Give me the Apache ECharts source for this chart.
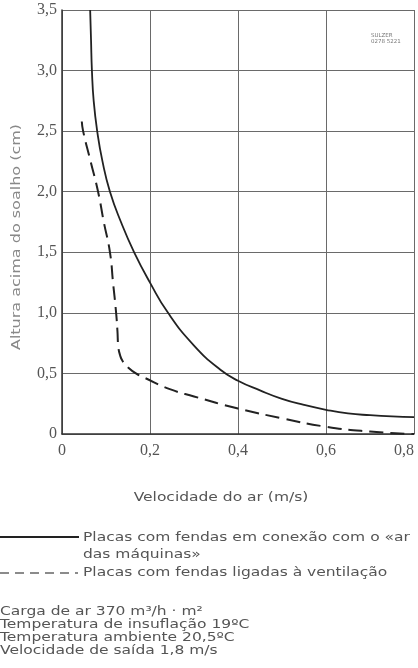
<!DOCTYPE html>
<html>
<head>
<meta charset="utf-8">
<script src="https://cdn.jsdelivr.net/npm/echarts@6/dist/echarts.min.js"></script>
<style>html,body{margin:0;padding:0;background:#fff}#c{width:418px;height:668px}</style>
</head>
<body>
<div id="c"></div>
<script>
var xTicks = [0, 0.2, 0.4, 0.6, 0.8];
var yTicks = [0, 0.5, 1.0, 1.5, 2.0, 2.5, 3.0, 3.5];
var solidName = 'Placas com fendas em conexão com o «ar';
var solidName2 = 'das máquinas»';
var dashedName = 'Placas com fendas ligadas à ventilação';
var solidX = [0.064,0.066,0.068,0.072,0.080,0.092,0.109,0.134,0.164,0.200,0.241,0.300,0.360,0.400,0.450,0.500,0.550,0.600,0.650,0.700,0.750,0.800];
var solidY = [3.50,3.25,3.00,2.75,2.50,2.25,2.00,1.75,1.50,1.25,1.00,0.73,0.53,0.44,0.36,0.29,0.24,0.20,0.17,0.155,0.145,0.14];
var dashX = [0.045,0.048,0.065,0.082,0.095,0.109,0.116,0.123,0.126,0.128,0.132,0.138,0.150,0.168,0.190,0.245,0.300,0.400,0.500,0.600,0.700,0.800];
var dashY = [2.58,2.50,2.25,2.00,1.75,1.50,1.25,1.00,0.85,0.72,0.65,0.60,0.55,0.50,0.46,0.37,0.31,0.21,0.13,0.06,0.02,0.00];
var notes = ['Carga de ar 370 m³/h · m²','Temperatura de insuflação 19ºC','Temperatura ambiente 20,5ºC','Velocidade de saída 1,8 m/s'];
var stamp = ['SULZER','0278 5221'];

function pairs(xs, ys){ return xs.map(function(x,i){return [x, ys[i]];}); }
function fmt(v){ return v === 0 ? '0' : v.toFixed(1).replace('.', ','); }

var chart = echarts.init(document.getElementById('c'), null, {renderer:'canvas'});
var sans = 'DejaVu Sans';
var txtCol = '#555';
var F = '12.5px "' + sans + '"';
var SX = 1.24;
var graphics = [
  {type:'text', x:221, y:498, scaleX:SX, style:{text:'Velocidade do ar (m/s)', font:F, fill:txtCol, align:'center', verticalAlign:'middle'}},
  {type:'text', x:17, y:237, rotation:Math.PI/2, scaleX:1.28, style:{text:'Altura acima do soalho (cm)', font:F, fill:'#888', align:'center', verticalAlign:'middle'}},
  {type:'line', shape:{x1:0,y1:537,x2:79,y2:537}, style:{stroke:'#222', lineWidth:2.2}},
  {type:'text', x:83, y:538, scaleX:SX, style:{text:solidName, font:F, fill:txtCol, verticalAlign:'middle'}},
  {type:'text', x:83, y:555, scaleX:SX, style:{text:solidName2, font:F, fill:txtCol, verticalAlign:'middle'}},
  {type:'line', shape:{x1:0,y1:573,x2:78,y2:573}, style:{stroke:'#666', lineWidth:1.5, lineDash:[9,6]}},
  {type:'text', x:83, y:573, scaleX:SX, style:{text:dashedName, font:F, fill:txtCol, verticalAlign:'middle'}},
  {type:'text', x:371, y:33, style:{text:stamp.join('\n'), font:'5.5px "'+sans+'"', fill:'#777', lineHeight:6, verticalAlign:'top'}}
];
notes.forEach(function(t,i){
  graphics.push({type:'text', x:0, y:612 + i*12.8, scaleX:SX, style:{text:t, font:F, fill:txtCol, verticalAlign:'middle'}});
});

chart.setOption({
  animation:false,
  backgroundColor:'#fff',
  grid:{left:62, top:10, right:4, bottom:234, containLabel:false},
  xAxis:{
    type:'value', min:xTicks[0], max:xTicks[xTicks.length-1], interval:0.2,
    axisLine:{show:true, onZero:false, lineStyle:{color:'#333', width:1.5}},
    axisTick:{show:false},
    splitLine:{show:true, lineStyle:{color:'#6a6a6a', width:1}},
    axisLabel:{formatter:fmt, margin:9, fontFamily:'Liberation Serif', fontSize:16, color:'#555', alignMaxLabel:'right'}
  },
  yAxis:{
    type:'value', min:yTicks[0], max:yTicks[yTicks.length-1], interval:0.5,
    axisLine:{show:true, lineStyle:{color:'#333', width:1.5}},
    axisTick:{show:false},
    splitLine:{show:true, lineStyle:{color:'#6a6a6a', width:1}},
    axisLabel:{formatter:fmt, margin:5, fontFamily:'Liberation Serif', fontSize:16, color:'#555'}
  },
  series:[
    {type:'line', name:solidName, data:pairs(solidX, solidY), showSymbol:false, smooth:0.5, clip:true,
     lineStyle:{color:'#222', width:1.8}},
    {type:'line', name:dashedName, data:pairs(dashX, dashY), showSymbol:false, smooth:0.5, clip:false,
     lineStyle:{color:'#222', width:2, type:[14,7]}}
  ],
  graphic:graphics
});
</script>
</body>
</html>
